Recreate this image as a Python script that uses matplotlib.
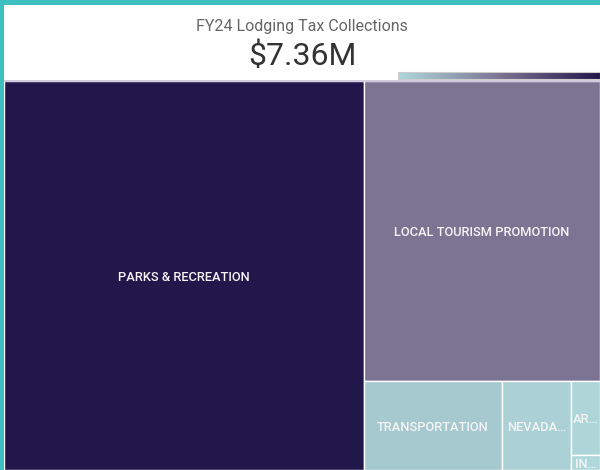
import matplotlib
matplotlib.use("Agg")
import matplotlib.pyplot as plt
from matplotlib.patches import Rectangle
from matplotlib.colors import LinearSegmentedColormap, Normalize
import numpy as np

# ---------------- data ----------------
categories = ["PARKS & RECREATION", "LOCAL TOURISM PROMOTION", "TRANSPORTATION",
              "NEVADA COMMISSION ON TOURISM", "ARTS & CULTURE", "INFRASTRUCTURE"]
values = [4.446, 2.247, 0.389, 0.196, 0.068, 0.014]   # $M
title_text = "FY24 Lodging Tax Collections"
total_text = "$7.36M"

# ---------------- style ----------------
W, H = 600, 470
TEAL = "#3fc0c0"
cmap = LinearSegmentedColormap.from_list(
    "pbi", [(0.0, "#afd8db"), (0.5, "#7b7493"), (1.0, "#21174a")])
norm = Normalize(vmin=min(values), vmax=max(values))


def fr(x0, y0, w, h):
    return [x0 / W, 1 - (y0 + h) / H, w / W, h / H]


# ---------------- squarify ----------------
def worst(sizes, x, y, dx, dy):
    rects = layout(sizes, x, y, dx, dy)
    return max(max(r[2] / r[3], r[3] / r[2]) for r in rects)


def layoutrow(sizes, x, y, dx, dy):
    cov = sum(sizes)
    width = cov / dy
    rects = []
    for s in sizes:
        rects.append((x, y, width, s / width))
        y += s / width
    return rects


def layoutcol(sizes, x, y, dx, dy):
    cov = sum(sizes)
    height = cov / dx
    rects = []
    for s in sizes:
        rects.append((x, y, s / height, height))
        x += s / height
    return rects


def layout(sizes, x, y, dx, dy):
    return layoutrow(sizes, x, y, dx, dy) if dx >= dy else layoutcol(sizes, x, y, dx, dy)


def leftover(sizes, x, y, dx, dy):
    cov = sum(sizes)
    if dx >= dy:
        w = cov / dy
        return x + w, y, dx - w, dy
    h = cov / dx
    return x, y + h, dx, dy - h


def squarify(sizes, x, y, dx, dy):
    sizes = list(sizes)
    if len(sizes) == 0:
        return []
    if len(sizes) == 1:
        return layout(sizes, x, y, dx, dy)
    i = 1
    while i < len(sizes) and worst(sizes[:i], x, y, dx, dy) >= worst(sizes[:i + 1], x, y, dx, dy):
        i += 1
    cur, rem = sizes[:i], sizes[i:]
    lx, ly, ldx, ldy = leftover(cur, x, y, dx, dy)
    return layout(cur, x, y, dx, dy) + squarify(rem, lx, ly, ldx, ldy)


# ---------------- figure ----------------
fig = plt.figure(figsize=(W / 100, H / 100), dpi=100)
fig.patch.set_facecolor("white")
fig.patches.append(Rectangle((0, 0), 4 / W, 1, transform=fig.transFigure,
                             facecolor=TEAL, edgecolor="none", zorder=0))
fig.patches.append(Rectangle((0, 1 - 5 / H), 1, 5 / H, transform=fig.transFigure,
                             facecolor=TEAL, edgecolor="none", zorder=0))

fig.text(302 / W, 1 - 27 / H, title_text, ha="center", va="center",
         fontsize=11.5, color="#666666", family="Roboto")
fig.text(302 / W, 1 - 56 / H, total_text, ha="center", va="center",
         fontsize=23, color="#333333", family="Roboto")

# gradient legend bar
cax = fig.add_axes(fr(398, 72, 202, 7))
cax.imshow(np.linspace(0, 1, 256)[None, :], aspect="auto", cmap=cmap)
cax.set_xticks([])
cax.set_yticks([])
for s in cax.spines.values():
    s.set_color("#cccccc")
    s.set_linewidth(0.8)

# treemap
TW, TH = 596, 389
ax = fig.add_axes(fr(4, 81, TW, TH))
ax.set_xlim(0, TW)
ax.set_ylim(TH, 0)
ax.axis("off")

total = sum(values)
sizes = [v * TW * TH / total for v in values]
rects = squarify(sizes, 0, 0, TW, TH)

renderer = fig.canvas.get_renderer()
for (x, y, dx, dy), name, v in zip(rects, categories, values):
    rect = Rectangle((x, y), dx, dy, facecolor=cmap(norm(v)),
                     edgecolor="#ffffff", linewidth=1.0)
    ax.add_patch(rect)
    t = ax.text(x + dx / 2, y + dy / 2 + 2, name, ha="center", va="center",
                fontsize=9.3, fontweight="medium", color="#f4f4f4",
                family="Roboto", clip_on=True)
    t.set_clip_path(rect)
    label = name
    while t.get_window_extent(renderer).width > dx - 3 and len(label) > 1:
        label = label[:-1]
        t.set_text(label.rstrip() + "…")

ax.plot([0, TW], [0, 0], color="#c8c4d8", lw=1.2, clip_on=False)

fig.savefig("out.png", dpi=100)
